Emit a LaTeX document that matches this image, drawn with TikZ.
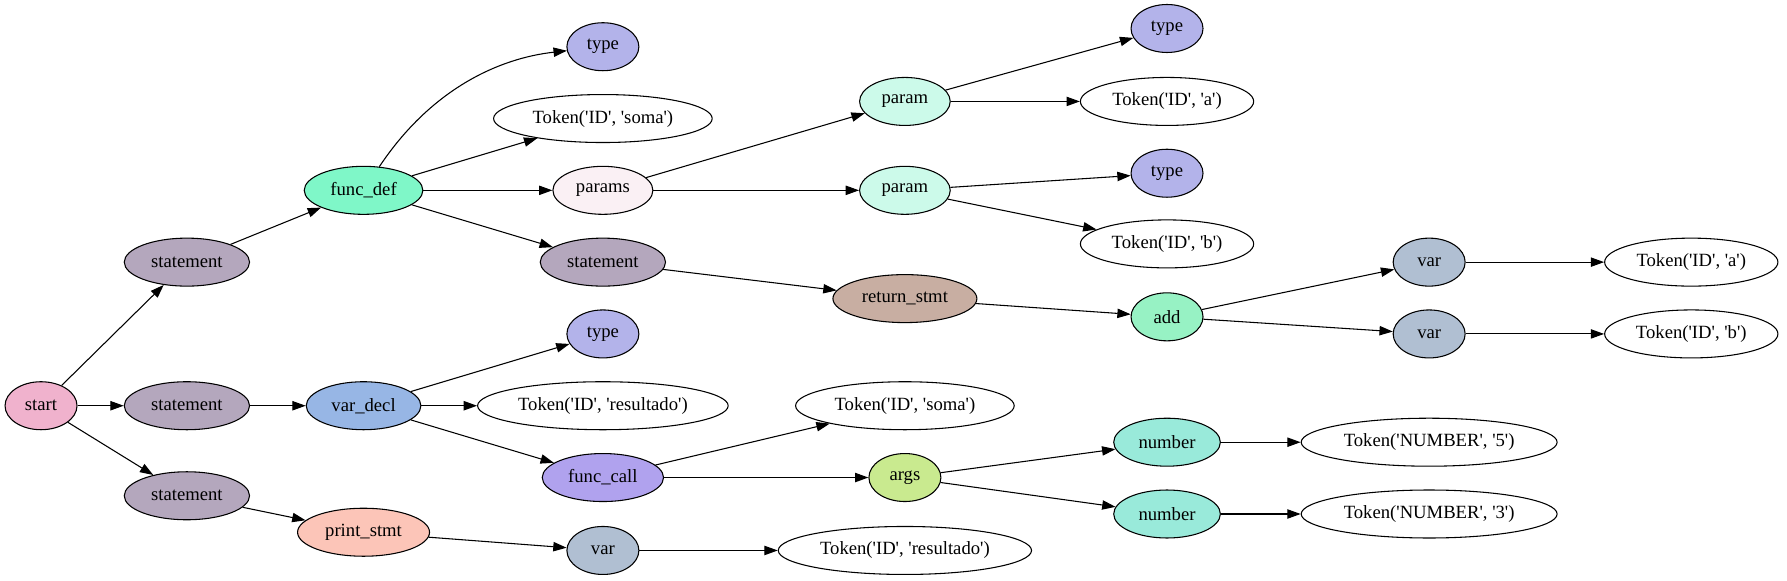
\documentclass[tikz,border=0pt]{standalone}
\usepackage{fontspec}
\setmainfont{Liberation Serif}[Ligatures=TeXOff]
\usepackage{tikz}
\usetikzlibrary{shapes.geometric, arrows.meta}

\definecolor{cStart}{HTML}{F0B2CD}
\definecolor{cStmt}{HTML}{B4A7BD}
\definecolor{cFdef}{HTML}{7FF7C8}
\definecolor{cVdecl}{HTML}{97B6E5}
\definecolor{cPrint}{HTML}{FCC5B8}
\definecolor{cType}{HTML}{B3B3EA}
\definecolor{cParams}{HTML}{FAF0F4}
\definecolor{cFcall}{HTML}{B0A2EE}
\definecolor{cVar}{HTML}{B0BFD2}
\definecolor{cParam}{HTML}{CCFAEA}
\definecolor{cRet}{HTML}{C8AEA2}
\definecolor{cArgs}{HTML}{C9EA8F}
\definecolor{cAdd}{HTML}{97F2C4}
\definecolor{cNum}{HTML}{99EADA}

\begin{document}
\begin{tikzpicture}[x=0.855pt, y=-0.855pt, >={Triangle[length=10pt, width=7pt]}, line width=0.8pt]
        \tikzset{
            nodo/.style={ellipse, draw, line width=0.8pt, minimum height=36pt, minimum width=54pt,
                inner xsep=2pt, font=\fontsize{14}{16}\selectfont},
            stmt/.style={nodo, fill=cStmt, minimum width=94pt},
            tipo/.style={nodo, fill=cType},
            var/.style={nodo, fill=cVar},
            param/.style={nodo, fill=cParam, minimum width=68pt},
            numero/.style={nodo, fill=cNum, minimum width=80pt},
            tok/.style={nodo, fill=white}
        }
        \useasboundingbox (0,0) rectangle (1568,509);

        % Nodos
        \node[nodo, fill=cStart] (start) at (36,356) {start};
        \node[stmt] (st1) at (164,230) {statement};
        \node[stmt] (st2) at (164,356) {statement};
        \node[stmt] (st3) at (164,435) {statement};
        \node[nodo, fill=cFdef, minimum width=89pt] (fdef) at (319,167) {func\_def};
        \node[nodo, fill=cVdecl, minimum width=86pt] (vdecl) at (319,356) {var\_decl};
        \node[nodo, fill=cPrint, minimum width=99pt] (pstmt) at (319,467) {print\_stmt};
        \node[tipo] (type1) at (529,41) {type};
        \node[tok, minimum width=164pt] (soma1) at (529,104) {Token('ID', 'soma')};
        \node[nodo, fill=cParams, minimum width=75pt] (params) at (529,167) {params};
        \node[stmt] (st4) at (529,230) {statement};
        \node[tipo] (type2) at (529,293) {type};
        \node[tok, minimum width=188pt] (res1) at (529,356) {Token('ID', 'resultado')};
        \node[nodo, fill=cFcall, minimum width=91pt] (fcall) at (529,419) {func\_call};
        \node[var] (var3) at (529,483) {var};
        \node[param] (par1) at (794,89) {param};
        \node[param] (par2) at (794,167) {param};
        \node[nodo, fill=cRet, minimum width=108pt] (ret) at (794,262) {return\_stmt};
        \node[tok, minimum width=164pt] (soma2) at (794,356) {Token('ID', 'soma')};
        \node[nodo, fill=cArgs] (args) at (794,419) {args};
        \node[tok, minimum width=190pt] (res2) at (794,483) {Token('ID', 'resultado')};
        \node[tipo] (type3) at (1024,25) {type};
        \node[tok, minimum width=130pt] (a1) at (1024,89) {Token('ID', 'a')};
        \node[tipo] (type4) at (1024,152) {type};
        \node[tok, minimum width=130pt] (b1) at (1024,214) {Token('ID', 'b')};
        \node[nodo, fill=cAdd] (add) at (1024,278) {add};
        \node[numero] (num1) at (1024,388) {number};
        \node[numero] (num2) at (1024,451) {number};
        \node[var] (var1) at (1254,230) {var};
        \node[var] (var2) at (1254,293) {var};
        \node[tok, minimum width=192pt] (n5) at (1254,388) {Token('NUMBER', '5')};
        \node[tok, minimum width=192pt] (n3) at (1254,451) {Token('NUMBER', '3')};
        \node[tok, minimum width=130pt] (a2) at (1484,230) {Token('ID', 'a')};
        \node[tok, minimum width=130pt] (b2) at (1484,293) {Token('ID', 'b')};

        % Aristas
        \draw[->] (fdef) .. controls +(60,-90) and +(-90,10) .. (type1);
        \path[->]
            (start) edge (st1)
            (start) edge (st2)
            (start) edge (st3)
            (st1) edge (fdef)
            (st2) edge (vdecl)
            (st3) edge (pstmt)
            (fdef) edge (soma1)
            (fdef) edge (params)
            (fdef) edge (st4)
            (params) edge (par1)
            (params) edge (par2)
            (par1) edge (type3)
            (par1) edge (a1)
            (par2) edge (type4)
            (par2) edge (b1)
            (st4) edge (ret)
            (ret) edge (add)
            (add) edge (var1)
            (add) edge (var2)
            (var1) edge (a2)
            (var2) edge (b2)
            (vdecl) edge (type2)
            (vdecl) edge (res1)
            (vdecl) edge (fcall)
            (fcall) edge (soma2)
            (fcall) edge (args)
            (args) edge (num1)
            (args) edge (num2)
            (num1) edge (n5)
            (num2) edge (n3)
            (pstmt) edge (var3)
            (var3) edge (res2);
    \end{tikzpicture}
\end{document}
